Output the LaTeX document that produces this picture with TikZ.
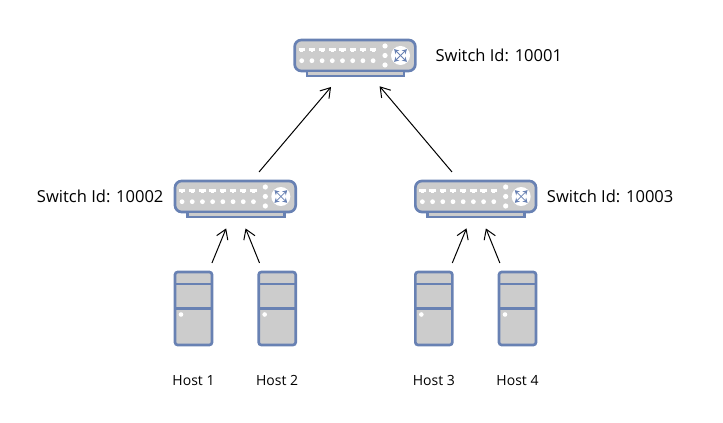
\documentclass[tikz,border=0pt]{standalone}
\usepackage{fontspec}
\setmainfont{Open Sans}
\usetikzlibrary{arrows.meta,positioning}
\definecolor{boxblue}{HTML}{6881B3}
\definecolor{boxgray}{HTML}{CCCCCC}

\begin{document}
\begin{tikzpicture}[
  x=0.75pt, y=-0.75pt,
  link/.style={draw=black, line width=0.75pt, -{Straight Barb[length=7pt,width=9pt]}},
  switchbox/.style={rectangle, draw=boxblue, fill=boxgray, line width=2pt, rounded corners=5pt,
    minimum width=90.5pt, minimum height=23.25pt, inner sep=0pt, outer sep=0pt},
  hostbox/.style={rectangle, draw=boxblue, fill=boxgray, line width=2pt, rounded corners=2pt,
    minimum width=27.75pt, minimum height=54.75pt, inner sep=0pt, outer sep=0pt},
  swlabel/.style={font=\fontsize{12.4}{14}\selectfont, inner sep=0pt, text height=9pt, text depth=0pt},
  hostlabel/.style={font=\fontsize{10.5}{12}\selectfont, inner sep=0pt, text height=8pt, text depth=0pt},
  switchparts/.pic={
    \draw[boxblue, fill=boxgray, line width=2pt] (-48,15.5) rectangle (49,20.5);
    \foreach \i in {0,...,7} {
      \fill[white] (-53.3+10.2*\i-3.2,-7) rectangle (-53.3+10.2*\i+3.2,-4.5);
      \fill[white] (-53.3+10.2*\i-1.4,-4.5) rectangle (-53.3+10.2*\i+1.4,-3);
      \fill[white] (-53.3+10.2*\i,5.2) circle[radius=2.4];
    }
    \foreach \j in {-9.5,0,9.5}
      \fill[white] (30,\j) circle[radius=2.6];
    \fill[white] (45.5,0) circle[radius=9.5];
    \foreach \a in {45,135,225,315}
      \draw[boxblue, line width=0.6pt, -{Stealth[length=3.5pt,width=4pt]}] (45.5,0) -- ++(\a:9);
  },
  hostparts/.pic={
    \draw[boxblue, line width=2pt] (-18.5,-24.5) -- (18.5,-24.5);
    \draw[boxblue, line width=2pt] (-18.5,0) -- (18.5,0);
    \fill[white] (-12.5,6) circle[radius=2.3];
  }
]
  \useasboundingbox (0,0) rectangle (723,423);

  \node[switchbox] (sw1) at (355,55.5) {};
  \node[switchbox, below left=82.5pt and -0.75pt of sw1] (sw2) {};
  \node[switchbox, below right=82.5pt and 0pt of sw1] (sw3) {};

  \node[hostbox, below right=45pt and 0pt of sw2.south west] (h1) {};
  \node[hostbox, below left=45pt and 0pt of sw2.south east] (h2) {};
  \node[hostbox, below right=45pt and 0pt of sw3.south west] (h3) {};
  \node[hostbox, below left=45pt and 0pt of sw3.south east] (h4) {};

  \foreach \n in {sw1,sw2,sw3}
    \pic at (\n) {switchparts};
  \foreach \n in {h1,h2,h3,h4}
    \pic at (\n) {hostparts};

  \node[swlabel, right=15pt of sw1] (l1) {Switch Id: 10001};
  \node[swlabel, left=8.5pt of sw2] (l2) {Switch Id: 10002};
  \node[swlabel, right=8pt of sw3] (l3) {Switch Id: 10003};

  \node[hostlabel, below=22.5pt of h1] (t1) {Host 1};
  \node[hostlabel, below=22.5pt of h2] (t2) {Host 2};
  \node[hostlabel, below=22.5pt of h3] (t3) {Host 3};
  \node[hostlabel, below=22.5pt of h4] (t4) {Host 4};

  \draw[link, shorten <=7.3pt, shorten >=13.3pt] (h1.68) -- (sw2.261);
  \draw[link, shorten <=7.3pt, shorten >=13.3pt] (h2.111) -- (sw2.283);
  \draw[link, shorten <=7.3pt, shorten >=13.3pt] (h3.68) -- (sw3.261);
  \draw[link, shorten <=7.3pt, shorten >=13.3pt] (h4.111) -- (sw3.283);
  \draw[link, shorten <=8.9pt, shorten >=15.7pt] (sw2.44) -- (sw1.236);
  \draw[link, shorten <=8.9pt, shorten >=15pt] (sw3.136) -- (sw1.307);
\end{tikzpicture}
\end{document}
